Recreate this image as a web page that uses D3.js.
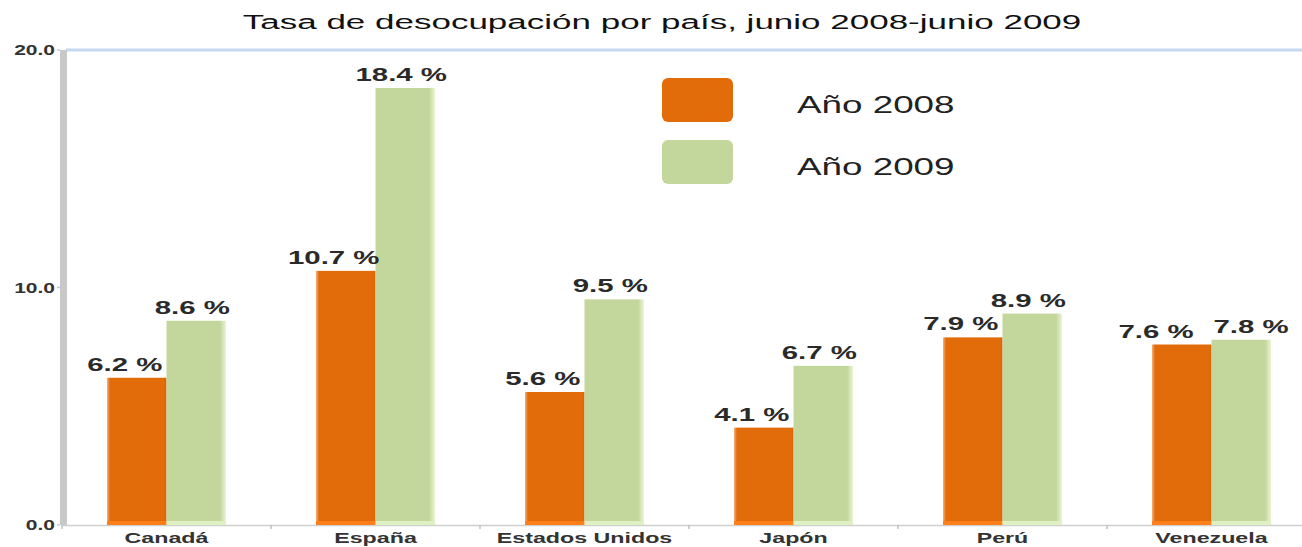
<!DOCTYPE html>
<html><head><meta charset="utf-8">
<script src="https://cdn.jsdelivr.net/npm/d3@7"></script>
<style>html,body{margin:0;padding:0;background:#fff;overflow:hidden}</style>
</head><body>
<svg id="c" width="1302" height="547"></svg>
<script>
const categories = ["Canadá","España","Estados Unidos","Japón","Perú","Venezuela"];
const seriesNames = ["Año 2008","Año 2009"];
const values2008 = [6.2, 10.7, 5.6, 4.1, 7.9, 7.6];
const values2009 = [8.6, 18.4, 9.5, 6.7, 8.9, 7.8];
const yTicks = [0, 10, 20];
const title = "Tasa de desocupación por país, junio 2008-junio 2009";

const svg = d3.select("#c");
const W = 1302, H = 547;
const m = {l:62, t:50, b:525};
const x0 = d3.scaleBand().domain(categories).range([m.l, m.l + 6*209]).padding(0);
const x1 = d3.scaleBand().domain(seriesNames).range([45, x0.bandwidth()-45]).padding(0);
const y = d3.scaleLinear().domain([0,20]).range([m.b, m.t]);
const colors = {"Año 2008":"#e36c0a","Año 2009":"#c3d69b"};
const FONT = "Liberation Sans, Arial, sans-serif";

const defs = svg.append("defs");
const g1 = defs.append("linearGradient").attr("id","gO").attr("x1","0").attr("x2","1").attr("y1","0").attr("y2","0");
g1.append("stop").attr("offset","0").attr("stop-color","#f6b27e");
g1.append("stop").attr("offset","0.05").attr("stop-color","#e36c0a");
g1.append("stop").attr("offset","0.96").attr("stop-color","#e36c0a");
g1.append("stop").attr("offset","1").attr("stop-color","#d85f05");
const g2 = defs.append("linearGradient").attr("id","gG").attr("x1","0").attr("x2","1").attr("y1","0").attr("y2","0");
g2.append("stop").attr("offset","0").attr("stop-color","#c3d69b");
g2.append("stop").attr("offset","0.9").attr("stop-color","#c3d69b");
g2.append("stop").attr("offset","1").attr("stop-color","#eaf6d4");
const fills = {"Año 2008":"url(#gO)","Año 2009":"url(#gG)"};
const bottomFill = {"Año 2008":"#ff7f1a","Año 2009":"#dff0c2"};

// title
svg.append("text").attr("transform",`translate(662,29) scale(1.75,1)`)
  .attr("text-anchor","middle").attr("font-family",FONT)
  .attr("font-size",20).attr("fill","#111").text(title);

// top gridline
svg.append("line").attr("x1",66).attr("x2",W).attr("y1",y(20)).attr("y2",y(20))
  .attr("stroke","#c6d9f1").attr("stroke-width",3);

// baseline
svg.append("line").attr("x1",m.l).attr("x2",W).attr("y1",y(0)+0.5).attr("y2",y(0)+0.5)
  .attr("stroke","#cfcfcf").attr("stroke-width",1.5);
svg.selectAll(".ct").data(categories).join("line")
  .attr("x1",d=>x0(d)).attr("x2",d=>x0(d)).attr("y1",y(0)).attr("y2",y(0)+4)
  .attr("stroke","#c0c0c0").attr("stroke-width",1.5);

// y axis bar
svg.append("rect").attr("x",m.l-2).attr("y",y(20)).attr("width",7).attr("height",y(0)-y(20))
  .attr("fill","#c8c8c8");
svg.selectAll(".yt").data(yTicks).join("line")
  .attr("x1",m.l-5).attr("x2",m.l-2).attr("y1",d=>y(d)).attr("y2",d=>y(d))
  .attr("stroke","#c8c8c8").attr("stroke-width",1.5);
svg.selectAll(".yl").data(yTicks).join("text")
  .attr("transform",d=>`translate(55,${y(d)+5}) scale(1.5,1)`)
  .attr("text-anchor","end").attr("font-family",FONT)
  .attr("font-size",14).attr("font-weight","bold").attr("fill","#333")
  .text(d=>d3.format(".1f")(d));

// bars
const rows = categories.map((c,i)=>({cat:c, vals:[{s:"Año 2008",v:values2008[i]},{s:"Año 2009",v:values2009[i]}]}));
const grp = svg.selectAll(".grp").data(rows).join("g").attr("transform",d=>`translate(${x0(d.cat)},0)`);
grp.selectAll("rect.bar").data(d=>d.vals).join("rect").attr("class","bar")
  .attr("x",d=>x1(d.s)).attr("width",x1.bandwidth())
  .attr("y",d=>y(d.v)).attr("height",d=>y(0)-y(d.v)).attr("fill",d=>fills[d.s]);
grp.selectAll("rect.bt").data(d=>d.vals).join("rect").attr("class","bt")
  .attr("x",d=>x1(d.s)).attr("width",x1.bandwidth())
  .attr("y",y(0)-4).attr("height",4).attr("fill",d=>bottomFill[d.s]);

// value labels with simple collision avoidance within a group
const LW = 75, GAP = 20;
rows.forEach(r=>{
  const a = r.vals[0], b = r.vals[1];
  a.cx = x1(a.s)+x1.bandwidth()/2 - 12;
  b.cx = x1(b.s)+x1.bandwidth()/2 - 4;
  if (Math.abs(y(a.v)-y(b.v)) < 18) {
    const need = LW + GAP - (b.cx - a.cx);
    if (need > 0) { a.cx -= need/2; b.cx += need/2; }
  }
});
grp.selectAll("text.vl").data(d=>d.vals).join("text").attr("class","vl")
  .attr("transform",d=>`translate(${d.cx},${y(d.v)-7}) scale(1.68,1)`)
  .attr("text-anchor","middle").attr("font-family",FONT)
  .attr("font-size",17.5).attr("font-weight","bold").attr("fill","#2a2a2a")
  .text(d=>d3.format(".1f")(d.v)+" %");

// category labels
svg.selectAll(".cl").data(categories).join("text")
  .attr("transform",d=>`translate(${x0(d)+x0.bandwidth()/2},543) scale(1.55,1)`)
  .attr("text-anchor","middle").attr("font-family",FONT)
  .attr("font-size",15).attr("font-weight","bold").attr("fill","#333").text(d=>d);

// legend
const lg = svg.selectAll(".lg").data(seriesNames).join("g").attr("transform",(d,i)=>`translate(662,${78+i*62})`);
lg.append("rect").attr("width",71).attr("height",44).attr("rx",6).attr("fill",d=>colors[d]);
lg.append("text").attr("transform",`translate(135,35) scale(1.6,1)`)
  .attr("font-family",FONT).attr("font-size",23)
  .attr("fill","#222").text(d=>d);
</script>
</body></html>
